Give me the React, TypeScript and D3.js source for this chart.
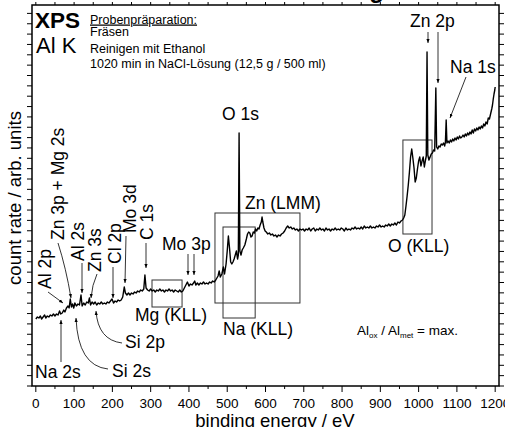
import * as d3 from 'd3';

const W = 505;
const H = 427;
const FRAME = { left: 32, right: 499, top: 5, bottom: 386 };
const FONT = '"Liberation Sans", Arial, sans-serif';

// [binding energy / eV, count rate / arb. units]
const SPEC_LOW: [number, number][] = [
  [0, 67], [4, 69], [8, 68], [12, 70], [15, 67], [19, 69], [23, 71], [26, 68], [30, 70], [34, 69],
  [38, 71], [42, 70], [46, 72], [50, 70], [54, 72], [58, 71], [62, 75], [65, 72], [69, 73], [73, 76],
  [76, 74], [80, 78], [84, 80], [87, 78], [90, 87], [93, 79], [96, 82], [99, 78], [102, 83], [106, 80],
  [110, 82], [114, 81], [118, 91], [121, 80], [125, 83], [129, 81], [133, 84], [137, 83], [140, 88], [143, 81],
  [147, 84], [151, 82], [155, 84], [159, 81], [163, 83], [167, 82], [171, 84], [175, 82], [179, 83], [183, 82],
  [187, 84], [191, 83], [195, 85], [199, 87], [203, 83], [207, 85], [211, 84], [215, 86], [219, 85], [223, 86],
  [227, 89], [231, 99], [234, 93], [238, 91], [242, 93],
];

const SPEC_MO: [number, number][] = [
  [246, 91], [250, 93], [254, 92], [258, 94], [262, 93], [266, 95], [270, 94], [274, 96], [278, 95], [282, 97],
  [285, 111], [288, 98], [292, 96], [296, 95], [300, 97], [304, 95], [308, 96], [312, 94], [316, 96], [320, 95],
  [324, 97], [328, 95], [332, 96], [336, 94], [340, 96], [344, 95], [348, 97], [352, 95], [356, 96], [360, 94],
  [364, 96], [368, 95], [372, 94], [376, 96], [380, 94], [384, 95], [388, 98], [392, 101], [396, 104], [400, 100],
  [404, 102], [408, 101], [412, 103], [415, 105], [418, 101], [422, 103], [426, 101], [430, 103], [434, 102], [438, 104],
  [442, 102], [446, 103], [450, 102], [454, 104], [458, 103], [462, 105], [466, 104], [470, 106],
];

const SPEC_O1S: [number, number][] = [
  [473, 108], [476, 110], [479, 115], [482, 109], [486, 112], [490, 119], [493, 112], [497, 122], [500, 135], [503, 150],
  [506, 138], [509, 124], [512, 122], [515, 124], [518, 127], [521, 131], [524, 135], [527, 127], [529, 131], [531, 253],
  [533, 135], [536, 131], [539, 136], [542, 138], [546, 141], [550, 147], [553, 152], [556, 154], [559, 153], [562, 149],
  [565, 150], [568, 154], [571, 153], [574, 157], [577, 155], [580, 158], [583, 157], [586, 161], [589, 164], [591, 169],
  [593, 164], [596, 158], [599, 155], [602, 154], [606, 152], [610, 153], [614, 151], [618, 152], [622, 150], [626, 151],
  [630, 149], [634, 151], [638, 150], [642, 152], [646, 153], [650, 155], [654, 158], [658, 160], [662, 158], [666, 159],
  [670, 157], [674, 158], [678, 156], [682, 157], [686, 155], [690, 157], [694, 156], [698, 157],
];

const SPEC_FLAT: [number, number][] = [
  [702, 155], [706, 157], [710, 156], [714, 158], [718, 155], [722, 157], [726, 158], [730, 155], [734, 157], [738, 156],
  [742, 158], [746, 156], [750, 157], [754, 155], [758, 158], [762, 156], [766, 157], [770, 155], [774, 157], [778, 156],
  [782, 158], [786, 156], [790, 157], [794, 156], [798, 158], [802, 157], [806, 155], [810, 158], [814, 156], [818, 157],
  [822, 156], [826, 158], [830, 157], [834, 159], [838, 157], [842, 158], [846, 157], [850, 159], [854, 157], [858, 160],
  [862, 158], [866, 159], [870, 158], [874, 160], [878, 158], [882, 159], [886, 158], [890, 160], [894, 159], [898, 161],
  [902, 159], [906, 160], [910, 159], [914, 161], [918, 160], [922, 162], [926, 160], [930, 162], [934, 161], [938, 163],
  [942, 161], [946, 164], [950, 163], [954, 165], [958, 166],
];

const SPEC_HIGH: [number, number][] = [
  [961, 168], [964, 171], [967, 180], [970, 190], [973, 201], [976, 214], [979, 229], [982, 237], [985, 228], [988, 218],
  [991, 204], [994, 208], [997, 217], [1000, 225], [1003, 229], [1006, 220], [1009, 225], [1012, 229], [1015, 219], [1018, 226],
  [1020, 230], [1022, 334], [1024, 231], [1027, 226], [1030, 229], [1033, 232], [1036, 233], [1039, 236], [1042, 235], [1045, 298],
  [1047, 239], [1050, 237], [1053, 240], [1056, 239], [1059, 242], [1062, 241], [1065, 243], [1068, 240], [1070, 244], [1072, 266],
  [1074, 243], [1077, 245], [1080, 243], [1083, 246], [1086, 244], [1089, 247], [1092, 245], [1095, 248], [1098, 246], [1101, 249],
  [1104, 247], [1107, 250], [1110, 248], [1113, 249], [1116, 251], [1119, 249], [1122, 252], [1125, 250], [1128, 253], [1131, 251],
  [1134, 254], [1137, 252], [1140, 256], [1143, 253], [1146, 257], [1149, 255], [1152, 258], [1155, 256], [1158, 259], [1161, 257],
  [1164, 260], [1167, 258], [1170, 262], [1173, 260], [1176, 264], [1179, 262], [1182, 268], [1185, 267], [1188, 272], [1191, 277],
  [1193, 281], [1195, 287], [1197, 292], [1199, 296], [1200, 299],
];

const X_MAJOR = [0, 100, 200, 300, 400, 500, 600, 700, 800, 900, 1000, 1100, 1200];
const X_MINOR = [50, 150, 250, 350, 450, 550, 650, 750, 850, 950, 1050, 1150];
const Y_TICK_STEP = 10.35;

// Auger regions: [eV from, eV to, count from, count to]
const REGION_BOXES: [number, number, number, number][] = [
  [303.5, 382, 79, 106],
  [468, 690, 83, 173],
  [489, 573, 68, 159],
  [959, 1035, 152, 246],
];

const ROTATED_LABELS: [string, number, number][] = [
  ['Al 2p', 51, 289],
  ['Zn 3p + Mg 2s', 64, 240],
  ['Al 2s', 84, 261],
  ['Zn 3s', 101, 272],
  ['Cl 2p', 121, 264],
  ['Mo 3d', 136, 233],
  ['C 1s', 153, 240],
];

const FLAT_LABELS: [string, number, number][] = [
  ['O 1s', 222, 120],
  ['Zn 2p', 410, 27],
  ['Na 1s', 450, 73],
  ['Zn (LMM)', 245, 209],
  ['Mo 3p', 162, 250],
  ['O (KLL)', 388, 252],
  ['Mg (KLL)', 135, 321],
  ['Na (KLL)', 223, 335],
  ['Na 2s', 35, 378],
  ['Si 2s', 112, 377],
  ['Si 2p', 125, 348],
];

const ARROWS = [
  'M48,292 L63,303',
  'M58,243 Q66,268 71,298',
  'M82,263 L82,293',
  'M97,274 Q92,285 91,298',
  'M113,267 L113,298',
  'M126,236 L125,283',
  'M146,243 L146,268',
  'M188,254 L188,275',
  'M194,254 L194,275',
  'M428,32 L428,43',
  'M438,32 L438,83',
  'M466,77 L450,118',
  'M61,362 L61,320',
  'M108,369 Q78,366 76,318',
  'M122,343 Q98,340 96,311',
];

export default function App() {
  const x = d3.scaleLinear().domain([-10, 1210]).range([FRAME.left, FRAME.right]);
  const y = d3.scaleLinear().domain([0, 381]).range([FRAME.bottom, FRAME.top]);
  const spectrum = [...SPEC_LOW, ...SPEC_MO, ...SPEC_O1S, ...SPEC_FLAT, ...SPEC_HIGH];
  const line = d3
    .line<[number, number]>()
    .x((d) => x(d[0]))
    .y((d) => y(d[1]));
  const yTicks = d3.range(0, 381, Y_TICK_STEP);

  return (
    <svg
      width={W}
      height={H}
      style={{ position: 'absolute', left: 0, top: 0, background: '#fff' }}
      fontFamily={FONT}
    >
      <defs>
        <marker id="ah" viewBox="0 0 10 10" refX="10" refY="5" markerWidth="5" markerHeight="5" orient="auto">
          <path d="M0,1 L10,5 L0,9 z" fill="#000" />
        </marker>
      </defs>

      {/* clipped title, only the descender reaches into view */}
      <text x={384} y={-2} textAnchor="end" fontSize={24} fontWeight="bold">
        Übersichtsmessung
      </text>

      {/* ticks */}
      {X_MAJOR.map((v) => (
        <line key={'xM' + v} x1={x(v)} x2={x(v)} y1={FRAME.bottom} y2={FRAME.bottom + 6} stroke="#000" strokeWidth={1} />
      ))}
      {X_MINOR.map((v) => (
        <line key={'xm' + v} x1={x(v)} x2={x(v)} y1={FRAME.bottom} y2={FRAME.bottom + 3} stroke="#000" strokeWidth={1} />
      ))}
      {[...X_MAJOR, ...X_MINOR].map((v) => (
        <line key={'xt' + v} x1={x(v)} x2={x(v)} y1={FRAME.top} y2={FRAME.top - 3} stroke="#000" strokeWidth={1} />
      ))}
      {yTicks.map((v) => (
        <g key={'y' + v}>
          <line x1={FRAME.left - 5} x2={FRAME.left} y1={y(v)} y2={y(v)} stroke="#000" strokeWidth={1} />
          <line x1={FRAME.right} x2={FRAME.right + 5} y1={y(v)} y2={y(v)} stroke="#000" strokeWidth={1} />
        </g>
      ))}
      {X_MAJOR.map((v) => (
        <text key={'xl' + v} x={x(v)} y={408} textAnchor="middle" fontSize={13.5}>
          {v}
        </text>
      ))}

      <rect
        x={FRAME.left}
        y={FRAME.top}
        width={FRAME.right - FRAME.left}
        height={FRAME.bottom - FRAME.top}
        fill="none"
        stroke="#000"
        strokeWidth={1.5}
      />

      <text x={275} y={427} textAnchor="middle" fontSize={18.5}>
        binding energy / eV
      </text>
      <text transform="translate(20.5,198) rotate(-90)" textAnchor="middle" fontSize={18.5}>
        count rate / arb. units
      </text>

      {REGION_BOXES.map((b, i) => (
        <rect
          key={'box' + i}
          x={x(b[0])}
          y={y(b[3])}
          width={x(b[1]) - x(b[0])}
          height={y(b[2]) - y(b[3])}
          fill="none"
          stroke="#333"
          strokeWidth={1}
        />
      ))}

      <path d={line(spectrum) ?? ''} fill="none" stroke="#000" strokeWidth={1.4} strokeLinejoin="round" />

      {ARROWS.map((d, i) => (
        <path key={'ar' + i} d={d} fill="none" stroke="#000" strokeWidth={0.8} markerEnd="url(#ah)" />
      ))}

      {ROTATED_LABELS.map(([t, bx, by]) => (
        <text key={t} transform={`translate(${bx},${by}) rotate(-90)`} fontSize={17.5}>
          {t}
        </text>
      ))}
      {FLAT_LABELS.map(([t, lx, ly]) => (
        <text key={t} x={lx} y={ly} fontSize={17.5}>
          {t}
        </text>
      ))}

      <text x={35} y={28} fontSize={22.5} fontWeight="bold">
        XPS
      </text>
      <text x={36} y={53} fontSize={22}>
        Al K
      </text>

      <g fontSize={12.5}>
        <text x={90} y={23.5} textDecoration="underline">
          Probenpräparation:
        </text>
        <text x={90} y={36}>Fräsen</text>
        <text x={90} y={52.5}>Reinigen mit Ethanol</text>
        <text x={90} y={68}>1020 min in NaCl-Lösung (12,5 g / 500 ml)</text>
      </g>

      <text x={357} y={335} fontSize={13.5}>
        Al
        <tspan fontSize={8} dy={3}>
          ox
        </tspan>
        <tspan dy={-3}> / Al</tspan>
        <tspan fontSize={8} dy={3}>
          met
        </tspan>
        <tspan dy={-3}> = max.</tspan>
      </text>
    </svg>
  );
}
